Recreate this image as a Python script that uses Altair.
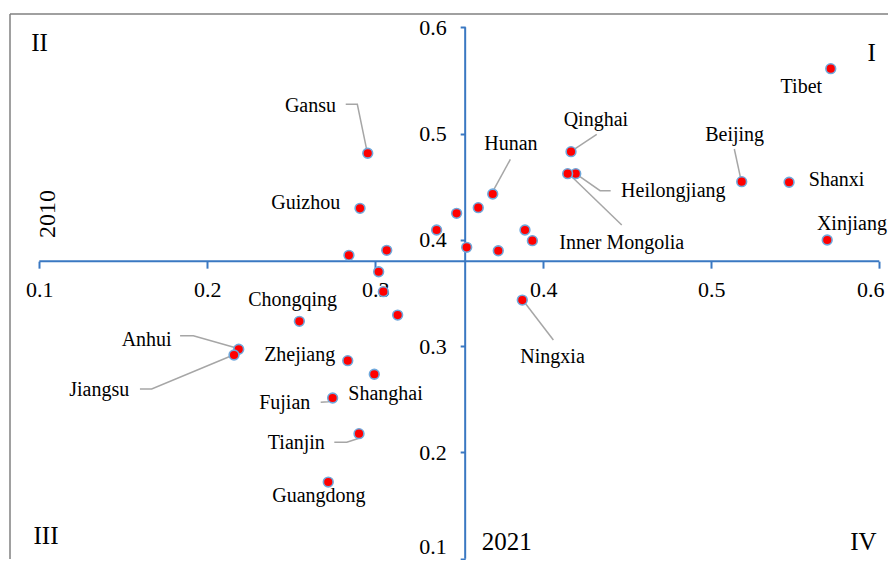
import altair as alt
import pandas as pd

# ---- data ----
names = ["Gansu", "Guizhou", "Chongqing", "Anhui", "Jiangsu", "Zhejiang", "Shanghai",
         "Fujian", "Tianjin", "Guangdong", "Tibet", "Qinghai", "Heilongjiang",
         "Inner Mongolia", "Beijing", "Shanxi", "Xinjiang", "Hunan", "Ningxia"]
x_2021 = [0.2955, 0.2909, 0.2548, 0.2187, 0.2159, 0.2836, 0.2994,
          0.2746, 0.2903, 0.2720, 0.5711, 0.4165, 0.4193,
          0.4145, 0.5181, 0.5463, 0.5690, 0.3699, 0.3875]
y_2010 = [0.4815, 0.4297, 0.3234, 0.2971, 0.2917, 0.2864, 0.2736,
          0.2513, 0.2177, 0.1722, 0.5611, 0.4830, 0.4623,
          0.4623, 0.4548, 0.4542, 0.3999, 0.4432, 0.3434]
label_x = [0.2614, 0.2586, 0.2508, 0.1639, 0.1357, 0.2550, 0.3061,
           0.2461, 0.2530, 0.2664, 0.5536, 0.4313, 0.4774,
           0.4467, 0.5139, 0.5746, 0.5837, 0.3807, 0.4055]
label_y = [0.5258, 0.4347, 0.3435, 0.3063, 0.2588, 0.2917, 0.2550,
           0.2463, 0.2087, 0.1591, 0.5438, 0.5128, 0.4457,
           0.3968, 0.4987, 0.4561, 0.4148, 0.4900, 0.2901]

# unlabeled provinces
other_x = [0.3365, 0.2843, 0.3068, 0.3020, 0.3048, 0.3133,
           0.3613, 0.3484, 0.3544, 0.3732, 0.3891, 0.3935]
other_y = [0.4093, 0.3855, 0.3902, 0.3700, 0.3513, 0.3293,
           0.4303, 0.4250, 0.3930, 0.3898, 0.4093, 0.3993]

# leader lines
leader_name = ["Gansu"] * 3 + ["Qinghai"] * 2 + ["Hunan"] * 2 + ["Heilongjiang"] * 3 + \
              ["Inner Mongolia"] * 2 + ["Beijing"] * 2 + ["Anhui"] * 3 + ["Jiangsu"] * 3 + \
              ["Fujian"] * 3 + ["Tianjin"] * 3 + ["Ningxia"] * 2
leader_x = [0.2824, 0.2893, 0.2949, 0.4318, 0.4179, 0.3804, 0.3702,
            0.4401, 0.4338, 0.4199, 0.4467, 0.4159, 0.5137, 0.5177,
            0.1838, 0.1917, 0.2179, 0.1599, 0.1669, 0.2155,
            0.2675, 0.2720, 0.2746, 0.2756, 0.2830, 0.2899, 0.4060, 0.3881]
leader_y = [0.5276, 0.5276, 0.4846, 0.4993, 0.4846, 0.4758, 0.4463,
            0.4463, 0.4463, 0.4617, 0.4140, 0.4611, 0.4855, 0.4563,
            0.3099, 0.3099, 0.2980, 0.2597, 0.2597, 0.2917,
            0.2472, 0.2478, 0.2513, 0.2096, 0.2096, 0.2131, 0.3058, 0.3428]

# quadrant / year annotations
note_text = ["I", "II", "III", "IV", "2021"]
note_x = [0.5955, 0.1001, 0.1040, 0.5905, 0.3782]
note_y = [0.5758, 0.5849, 0.1215, 0.1155, 0.1161]
vnote_text = ["2010"]
vnote_x = [0.1050]
vnote_y = [0.4244]

x_ticks = [0.1, 0.2, 0.3, 0.4, 0.5, 0.6]
y_ticks = [0.1, 0.2, 0.3, 0.4, 0.5, 0.6]
x_cross = 0.3535   # where the vertical axis sits
y_cross = 0.38     # where the horizontal axis sits

# ---- layout ----
W, H = 878, 545
xmin = 0.08256
xmax = xmin + W / 1680
ymax = 0.61251
ymin = ymax - H / 1063

AX_BLUE = "#3A78C2"
FONT = "Liberation Serif"

x_off = -(y_cross - ymin) / (ymax - ymin) * H
y_off = -(x_cross - xmin) / (xmax - xmin) * W

xscale = alt.Scale(domain=[xmin, xmax], nice=False, zero=False)
yscale = alt.Scale(domain=[ymin, ymax], nice=False, zero=False)
xaxis = alt.Axis(orient="bottom", offset=x_off, values=x_ticks, format=".1f",
                 domain=False, grid=False, tickColor=AX_BLUE, tickWidth=2, tickSize=7,
                 labelFont=FONT, labelFontSize=22, labelColor="black", labelPadding=11,
                 labelOffset={"condition": {"test": "datum.value >= 0.59", "value": -9}, "value": 0},
                 labelFlush=False, labelOverlap=False, title=None)
yaxis = alt.Axis(orient="left", offset=y_off, values=y_ticks, format=".1f",
                 domain=False, grid=False, tickColor=AX_BLUE, tickWidth=2, tickSize=5,
                 labelFont=FONT, labelFontSize=22, labelColor="black", labelPadding=14,
                 labelOffset={"condition": {"test": "datum.value <= 0.11", "value": -12}, "value": 0},
                 labelFlush=False, labelOverlap=False, title=None)


def X(field="x"):
    return alt.X(f"{field}:Q", scale=xscale, axis=xaxis)


def Y(field="y"):
    return alt.Y(f"{field}:Q", scale=yscale, axis=yaxis)


# frame (left and top edges)
frame_v = pd.DataFrame({"x": [xmin], "y": [ymin], "y2": [ymax]})
frame_h = pd.DataFrame({"x": [xmin], "x2": [xmax], "y": [ymax]})
frame = alt.layer(
    alt.Chart(frame_v).mark_rule(color="#808080", strokeWidth=1.5).encode(x=X(), y=Y(), y2="y2:Q"),
    alt.Chart(frame_h).mark_rule(color="#808080", strokeWidth=1.5).encode(x=X(), x2="x2:Q", y=Y()),
)

# axis lines
axis_h = pd.DataFrame({"x": [x_ticks[0]], "x2": [x_ticks[-1]], "y": [y_cross]})
axis_v = pd.DataFrame({"x": [x_cross], "y": [y_ticks[0]], "y2": [y_ticks[-1]]})
axes = alt.layer(
    alt.Chart(axis_h).mark_rule(color=AX_BLUE, strokeWidth=2).encode(x=X(), x2="x2:Q", y=Y()),
    alt.Chart(axis_v).mark_rule(color=AX_BLUE, strokeWidth=2).encode(x=X(), y=Y(), y2="y2:Q"),
)

# leader lines
ldf = pd.DataFrame({"name": leader_name, "x": leader_x, "y": leader_y})
ldf["step"] = ldf.groupby("name").cumcount()
leaders = alt.Chart(ldf).mark_line(color="#A6A6A6", strokeWidth=1.5).encode(
    x=X(), y=Y(), detail="name:N", order="step:Q")

# points
pdf = pd.DataFrame({"x": x_2021 + other_x, "y": y_2010 + other_y})
points = alt.Chart(pdf).mark_circle(size=95, color="#FF0000", opacity=1,
                                    stroke="#6FA8DC", strokeWidth=1.6).encode(x=X(), y=Y())

# point labels
tdf = pd.DataFrame({"name": names, "x": label_x, "y": label_y})
labels = alt.Chart(tdf).mark_text(font=FONT, fontSize=20, color="black",
                                  align="center", baseline="middle").encode(
    x=X(), y=Y(), text="name:N")

ndf = pd.DataFrame({"t": note_text, "x": note_x, "y": note_y})
notes = alt.Chart(ndf).mark_text(font=FONT, fontSize=25, color="black",
                                 align="center", baseline="middle").encode(
    x=X(), y=Y(), text="t:N")

vdf = pd.DataFrame({"t": vnote_text, "x": vnote_x, "y": vnote_y})
vnotes = alt.Chart(vdf).mark_text(font=FONT, fontSize=24, color="black", angle=270,
                                  align="center", baseline="middle").encode(
    x=X(), y=Y(), text="t:N")

chart = alt.layer(frame, axes, leaders, points, labels, notes, vnotes).properties(
    width=W, height=H,
    autosize=alt.AutoSizeParams(type="none"),
    padding={"left": 2, "top": 6, "right": 0, "bottom": 1},
).configure_view(stroke=None)

chart.save("out.html", embed_options={"renderer": "svg", "actions": False})
